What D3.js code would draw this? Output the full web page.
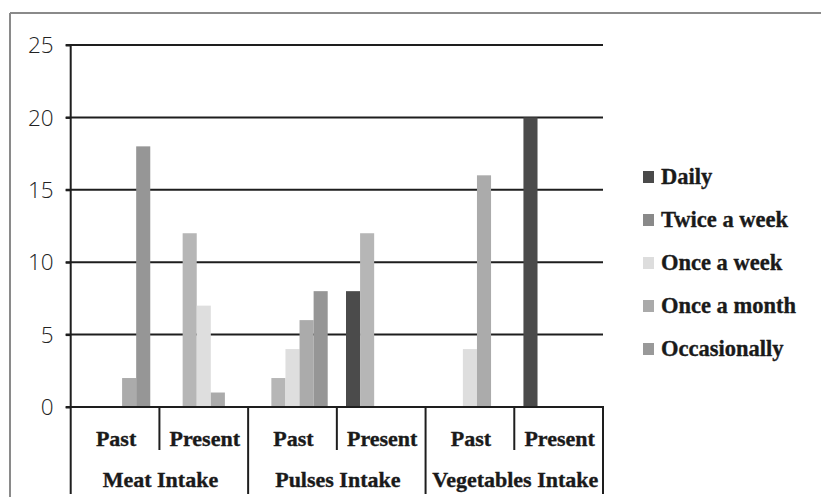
<!DOCTYPE html>
<html>
<head>
<meta charset="utf-8">
<script src="https://cdn.jsdelivr.net/npm/d3@7"></script>
<style>
  html, body { margin: 0; padding: 0; background: #fff; }
  svg { display: block; }
</style>
</head>
<body>
<svg id="chart" width="821" height="497"></svg>
<script>
// ---- data ----
const groups = ["Meat Intake", "Pulses Intake", "Vegetables Intake"];
const periods = ["Past", "Present"];
const series = ["Daily", "Twice a week", "Once a week", "Once a month", "Occasionally"];
const daily       = [0, 0, 0, 8, 0, 20];
const twiceWeek   = [0, 12, 2, 12, 0, 0];
const onceWeek    = [0, 7, 4, 0, 4, 0];
const onceMonth   = [2, 1, 6, 0, 16, 0];
const occasionally= [18, 0, 8, 0, 0, 0];
const yTicks = [0, 5, 10, 15, 20, 25];

// ---- styles ----
const barColors = ["#4b4b4b", "#b6b6b6", "#dedede", "#ababab", "#969696"];
const legendColors = ["#4a4a4a", "#898989", "#dddddd", "#aaaaaa", "#999999"];
const serifFont = "'Liberation Serif', 'Times New Roman', serif";
const sansFont = "'Open Sans', 'Liberation Sans', sans-serif";

const values = [daily, twiceWeek, onceWeek, onceMonth, occasionally];
const cats = [];
groups.forEach(g => periods.forEach(p => cats.push(g + "|" + p)));

const svg = d3.select("#chart");

// frame
svg.append("line").attr("x1", 10).attr("x2", 821).attr("y1", 13).attr("y2", 13)
  .attr("stroke", "#8a8a8a").attr("stroke-width", 2);
svg.append("line").attr("x1", 10).attr("x2", 10).attr("y1", 13).attr("y2", 497)
  .attr("stroke", "#8a8a8a").attr("stroke-width", 2);

const plotL = 70.7, plotR = 603, plotT = 45, plotB = 407;

const x0 = d3.scaleBand().domain(cats).range([plotL, plotR]).padding(0);
const x1 = d3.scaleBand().domain(series).range([0, x0.bandwidth()])
  .paddingInner(0).paddingOuter(0.65);
const y = d3.scaleLinear().domain([0, 25]).range([plotB, plotT]);

// gridlines
svg.append("g").selectAll("line").data(yTicks.filter(d => d > 0)).join("line")
  .attr("x1", plotL - 5).attr("x2", plotR)
  .attr("y1", d => y(d)).attr("y2", d => y(d))
  .attr("stroke", "#1e1e1e").attr("stroke-width", 2);

// bars
const gBars = svg.append("g");
series.forEach((s, si) => {
  gBars.selectAll(null).data(cats.map((c, ci) => ({c, v: values[si][ci]})).filter(d => d.v > 0))
    .join("rect")
    .attr("x", d => x0(d.c) + x1(s))
    .attr("width", x1.bandwidth())
    .attr("y", d => y(d.v))
    .attr("height", d => plotB - y(d.v))
    .attr("fill", barColors[si]);
});

// y axis
const yAxis = svg.append("g").attr("transform", `translate(${plotL},0)`)
  .call(d3.axisLeft(y).tickValues(yTicks).tickSize(5).tickPadding(12));
yAxis.select(".domain").remove();
yAxis.selectAll(".tick line").attr("stroke", "#1e1e1e").attr("stroke-width", 2);
yAxis.selectAll(".tick text").attr("font-family", sansFont).attr("font-size", 22.5)
  .attr("font-weight", 300).attr("fill", "#222").attr("dy", "0.34em");
svg.append("line").attr("x1", plotL).attr("x2", plotL).attr("y1", plotT - 1).attr("y2", 494)
  .attr("stroke", "#1e1e1e").attr("stroke-width", 2);

// x axis baseline
svg.append("line").attr("x1", plotL - 5).attr("x2", plotR + 1).attr("y1", plotB).attr("y2", plotB)
  .attr("stroke", "#1e1e1e").attr("stroke-width", 2);

// inner ticks (between Past and Present) and group separators
const gx = svg.append("g");
groups.forEach(g => {
  const xm = x0(g + "|Present");
  gx.append("line").attr("x1", xm).attr("x2", xm).attr("y1", plotB).attr("y2", 450)
    .attr("stroke", "#1e1e1e").attr("stroke-width", 2);
  const xe = x0(g + "|Present") + x0.bandwidth();
  gx.append("line").attr("x1", xe).attr("x2", xe).attr("y1", plotB).attr("y2", 494)
    .attr("stroke", "#1e1e1e").attr("stroke-width", 2);
});

// period labels
gx.selectAll("text.period").data(cats).join("text")
  .attr("class", "period")
  .attr("x", d => x0(d) + x0.bandwidth() / 2 + 1)
  .attr("y", 438)
  .attr("dy", "0.35em")
  .attr("text-anchor", "middle")
  .attr("font-family", serifFont).attr("font-weight", "bold").attr("font-size", 22)
  .attr("fill", "#1a1a1a").attr("stroke", "#1a1a1a").attr("stroke-width", 0.35)
  .text(d => d.split("|")[1]);

// group labels
gx.selectAll("text.group").data(groups).join("text")
  .attr("class", "group")
  .attr("x", g => (x0(g + "|Past") + x0(g + "|Present") + x0.bandwidth()) / 2 + 1)
  .attr("y", 479)
  .attr("dy", "0.35em")
  .attr("text-anchor", "middle")
  .attr("font-family", serifFont).attr("font-weight", "bold").attr("font-size", 22)
  .attr("fill", "#1a1a1a").attr("stroke", "#1a1a1a").attr("stroke-width", 0.35)
  .text(g => g);

// legend
const legend = svg.append("g").attr("transform", "translate(643,177)");
const ly = d3.scalePoint().domain(series).range([0, 172]);
series.forEach((s, i) => {
  const g = legend.append("g").attr("transform", `translate(0,${ly(s)})`);
  g.append("rect").attr("x", 0).attr("y", -6).attr("width", 11).attr("height", 12)
    .attr("fill", legendColors[i]);
  g.append("text").attr("x", 18).attr("y", 0).attr("dy", "0.33em")
    .attr("font-family", serifFont).attr("font-weight", "bold").attr("font-size", 22.5)
    .attr("fill", "#1a1a1a").attr("stroke", "#1a1a1a").attr("stroke-width", 0.35)
    .text(s);
});
</script>
</body>
</html>
